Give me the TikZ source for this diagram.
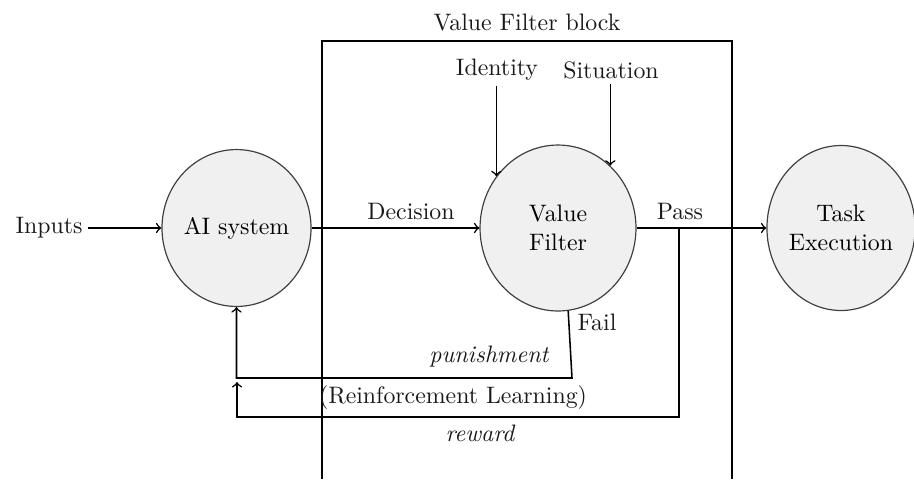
\documentclass[tikz,border=0pt]{standalone}
\usetikzlibrary{shapes.geometric}
\begin{document}
\begin{tikzpicture}[x=0.42pt, y=-0.42pt,
  stage/.style={ellipse, draw=black!75, line width=0.5pt, fill=black!6,
    inner sep=0pt, align=center},
  wire/.style={line width=0.65pt, black},
  lbl/.style={inner sep=2pt, text=black!90}]
\useasboundingbox (0,0) rectangle (914,479);

% processing stages
\node[stage, minimum width=61.7pt, minimum height=65.9pt] (ai) at (236.5,228) {AI system};
\node[stage, minimum width=65.5pt, minimum height=69.7pt] (vf) at (558,228) {Value\\Filter};
\node[stage, minimum width=62.2pt, minimum height=69.3pt] (task) at (841,228) {Task\\Execution};

% surrounding block
\coordinate (bl) at (322,479);
\coordinate (tl) at (322,41);
\coordinate (tr) at (732,41);
\coordinate (br) at (732,479);
\draw[wire] (bl) -- (tl) -- (tr) -- (br);
\node[lbl] (blk) at (527,22) {Value Filter block};

% text labels
\node[lbl] (inputs) at (49,228) {Inputs};
\node[lbl] (identity) at (497,70) {Identity};
\node[lbl] (situation) at (611,70) {Situation};
\node[lbl] (decision) at (411,211) {Decision};
\node[lbl] (pass) at (680,211) {Pass};
\node[lbl] (fail) at (597,322) {Fail};
\node[lbl] (pun) at (489,357) {\itshape punishment};
\node[lbl] (rl) at (453,398) {(Reinforcement Learning)};
\node[lbl] (rew) at (480,433) {\itshape reward};

% forward path
\draw[wire,->] (inputs) -- (ai);
\draw[wire,->] (ai) -- (vf);
\draw[wire,->] (vf) -- (task);
\draw[wire,->] (vf.140 |- identity.south) -- (vf.140);
\draw[wire,->] (vf.50 |- situation.south) -- (vf.50);

% feedback paths
\coordinate (fb) at (572,378);
\draw[wire,->] (vf.-83) -- (fb) -| (ai.south);
\coordinate (pb) at (679,228);
\coordinate (rc) at (237,417);
\coordinate (rtip) at (237,382);
\draw[wire,->] (pb) |- (rc) -- (rtip);
\end{tikzpicture}
\end{document}
